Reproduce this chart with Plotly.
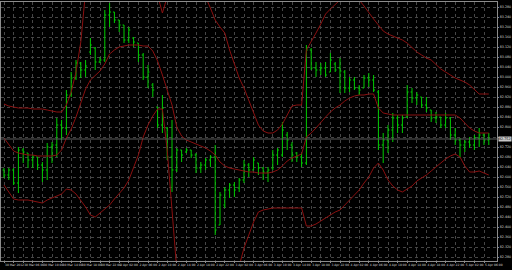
import plotly.graph_objects as go

# ---- data (USDJPY-like H1 bars) ----
time_labels = ["30 Mar 2012", "30 Mar 06:00", "30 Mar 10:00", "30 Mar 14:00", "30 Mar 18:00", "30 Mar 22:00",
               "2 Apr 02:00", "2 Apr 06:00", "2 Apr 10:00", "2 Apr 14:00", "2 Apr 18:00", "2 Apr 22:00",
               "3 Apr 02:00", "3 Apr 06:00", "3 Apr 10:00", "3 Apr 14:00", "3 Apr 18:00", "3 Apr 22:00",
               "4 Apr 02:00", "4 Apr 06:00", "4 Apr 10:00", "4 Apr 14:00", "4 Apr 18:00", "4 Apr 22:00",
               "5 Apr 02:00", "5 Apr 06:00"]

price_ticks = [83.28, 83.24, 83.20, 83.16, 83.12, 83.08, 83.04, 83.00, 82.96, 82.92, 82.88, 82.84, 82.80,
               82.76, 82.72, 82.68, 82.64, 82.60, 82.56, 82.52, 82.48, 82.44, 82.40, 82.36, 82.32, 82.28]

opens = [82.628, 82.608, 82.628, 82.576, 82.708, 82.696, 82.668, 82.680, 82.648, 82.628,
         82.720, 82.728, 82.808, 82.796, 82.928, 82.996, 83.056, 83.028, 83.100, 83.116,
         83.060, 83.068, 83.248, 83.260, 83.228, 83.208, 83.148, 83.156, 83.136, 83.088,
         83.000, 82.968, 82.880, 82.808, 82.796, 82.680, 82.628, 82.708, 82.700, 82.708,
         82.688, 82.636, 82.648, 82.668, 82.680, 82.408, 82.488, 82.548, 82.568, 82.556,
         82.588, 82.648, 82.628, 82.656, 82.636, 82.620, 82.636, 82.688, 82.688, 82.768,
         82.728, 82.696, 82.680, 82.656, 83.108, 83.036, 83.028, 83.036, 83.020, 83.052,
         83.036, 83.020, 82.956, 82.988, 82.956, 82.956, 82.996, 82.988, 82.940, 82.728,
         82.748, 82.788, 82.836, 82.808, 82.840, 82.940, 82.916, 82.920, 82.888, 82.868,
         82.836, 82.840, 82.808, 82.836, 82.768, 82.748, 82.728, 82.740, 82.728, 82.756,
         82.768, 82.748]

highs = [82.636, 82.636, 82.636, 82.720, 82.716, 82.696, 82.688, 82.680, 82.660, 82.736,
         82.740, 82.836, 82.828, 82.948, 83.020, 83.068, 83.060, 83.068, 83.156, 83.120,
         83.080, 83.268, 83.296, 83.260, 83.228, 83.208, 83.200, 83.160, 83.136, 83.096,
         83.048, 82.976, 82.880, 82.928, 82.800, 82.828, 82.716, 82.708, 82.716, 82.708,
         82.696, 82.660, 82.676, 82.688, 82.728, 82.540, 82.560, 82.576, 82.580, 82.596,
         82.668, 82.656, 82.680, 82.656, 82.640, 82.640, 82.708, 82.716, 82.820, 82.780,
         82.740, 82.700, 82.696, 83.128, 83.116, 83.060, 83.056, 83.060, 83.096, 83.060,
         83.076, 83.028, 83.000, 83.000, 82.968, 83.008, 83.016, 83.008, 82.948, 82.776,
         82.808, 82.856, 82.848, 82.848, 82.968, 82.956, 82.940, 82.920, 82.920, 82.868,
         82.860, 82.840, 82.856, 82.840, 82.796, 82.756, 82.748, 82.760, 82.768, 82.796,
         82.776, 82.776]

lows = [82.596, 82.588, 82.568, 82.536, 82.656, 82.636, 82.636, 82.628, 82.580, 82.588,
        82.656, 82.680, 82.748, 82.768, 82.920, 82.988, 82.996, 83.000, 83.088, 83.028,
        83.056, 83.060, 83.200, 83.216, 83.180, 83.136, 83.136, 83.120, 83.060, 82.988,
        82.956, 82.920, 82.796, 82.776, 82.668, 82.540, 82.620, 82.660, 82.696, 82.676,
        82.616, 82.616, 82.628, 82.640, 82.368, 82.408, 82.476, 82.516, 82.520, 82.540,
        82.576, 82.600, 82.628, 82.608, 82.588, 82.580, 82.628, 82.648, 82.680, 82.708,
        82.660, 82.660, 82.640, 82.648, 83.028, 83.000, 83.008, 83.000, 83.020, 83.020,
        82.936, 82.936, 82.940, 82.948, 82.928, 82.956, 82.960, 82.940, 82.708, 82.656,
        82.696, 82.740, 82.776, 82.776, 82.836, 82.896, 82.888, 82.876, 82.860, 82.820,
        82.816, 82.796, 82.796, 82.748, 82.728, 82.680, 82.700, 82.716, 82.708, 82.720,
        82.728, 82.728]

closes = [82.608, 82.628, 82.576, 82.708, 82.700, 82.668, 82.680, 82.648, 82.628, 82.720,
          82.728, 82.808, 82.796, 82.928, 82.996, 83.056, 83.028, 83.044, 83.128, 83.060,
          83.068, 83.248, 83.260, 83.228, 83.208, 83.148, 83.188, 83.140, 83.088, 83.000,
          83.020, 82.948, 82.808, 82.876, 82.680, 82.628, 82.708, 82.688, 82.708, 82.688,
          82.636, 82.648, 82.668, 82.680, 82.388, 82.528, 82.548, 82.568, 82.548, 82.588,
          82.648, 82.628, 82.668, 82.636, 82.620, 82.628, 82.688, 82.708, 82.788, 82.748,
          82.688, 82.680, 82.656, 83.108, 83.036, 83.028, 83.036, 83.008, 83.068, 83.028,
          83.024, 82.956, 82.988, 82.956, 82.948, 82.996, 82.988, 82.948, 82.728, 82.748,
          82.788, 82.836, 82.808, 82.836, 82.940, 82.916, 82.928, 82.888, 82.876, 82.836,
          82.840, 82.808, 82.836, 82.768, 82.748, 82.728, 82.740, 82.728, 82.756, 82.768,
          82.748, 82.752]

band_upper = [82.892, 82.884, 82.880, 82.876, 82.876, 82.876, 82.872, 82.872, 82.872, 82.868,
              82.864, 82.860, 82.860, 82.888, 82.940, 83.020, 83.140, 83.388, 83.548, 83.668,
              83.748, 83.908, 84.068, 84.148, 84.188, 84.208, 84.188, 84.108, 83.988, 83.828,
              83.668, 83.508, 83.328, 83.256, 83.320, 83.428, 83.468, 83.488, 83.488, 83.448,
              83.408, 83.368, 83.320, 83.276, 83.228, 83.200, 83.176, 83.108, 83.048, 82.996,
              82.956, 82.908, 82.860, 82.808, 82.784, 82.776, 82.776, 82.788, 82.812, 82.848,
              82.884, 82.888, 82.888, 83.108, 83.140, 83.176, 83.212, 83.252, 83.272, 83.292,
              83.308, 83.324, 83.328, 83.324, 83.308, 83.284, 83.256, 83.232, 83.208, 83.184,
              83.172, 83.164, 83.156, 83.148, 83.136, 83.116, 83.100, 83.088, 83.076, 83.068,
              83.048, 83.032, 83.020, 83.008, 82.996, 82.988, 82.980, 82.968, 82.948, 82.932,
              82.932, 82.932]

band_middle = [82.756, 82.728, 82.704, 82.696, 82.692, 82.688, 82.688, 82.684, 82.684, 82.684,
               82.684, 82.688, 82.708, 82.756, 82.792, 82.840, 82.896, 82.952, 82.988, 83.008,
               83.024, 83.052, 83.092, 83.108, 83.120, 83.124, 83.128, 83.128, 83.128, 83.124,
               83.124, 83.104, 83.064, 83.008, 82.948, 82.888, 82.800, 82.764, 82.748, 82.740,
               82.732, 82.724, 82.716, 82.704, 82.688, 82.660, 82.644, 82.636, 82.632, 82.628,
               82.624, 82.620, 82.620, 82.616, 82.616, 82.616, 82.620, 82.628, 82.644, 82.664,
               82.676, 82.684, 82.692, 82.760, 82.776, 82.796, 82.820, 82.840, 82.860, 82.876,
               82.888, 82.904, 82.916, 82.924, 82.928, 82.928, 82.932, 82.932, 82.876, 82.856,
               82.852, 82.848, 82.848, 82.848, 82.848, 82.848, 82.848, 82.848, 82.848, 82.848,
               82.848, 82.848, 82.848, 82.848, 82.848, 82.836, 82.816, 82.796, 82.784, 82.776,
               82.776, 82.776]

band_lower = [82.568, 82.540, 82.512, 82.508, 82.508, 82.508, 82.504, 82.500, 82.496, 82.508,
              82.516, 82.524, 82.532, 82.552, 82.548, 82.532, 82.508, 82.480, 82.448, 82.440,
              82.456, 82.472, 82.488, 82.512, 82.532, 82.556, 82.588, 82.636, 82.688, 82.760,
              82.808, 82.844, 82.872, 82.872, 82.708, 82.468, 82.228, 82.108, 82.028, 81.988,
              81.968, 81.968, 81.988, 82.008, 82.048, 82.088, 82.128, 82.168, 82.208, 82.244,
              82.316, 82.368, 82.420, 82.460, 82.468, 82.472, 82.476, 82.476, 82.476, 82.476,
              82.476, 82.476, 82.476, 82.404, 82.404, 82.412, 82.424, 82.436, 82.448, 82.460,
              82.468, 82.488, 82.508, 82.528, 82.548, 82.576, 82.600, 82.636, 82.656, 82.628,
              82.588, 82.564, 82.548, 82.540, 82.552, 82.564, 82.584, 82.596, 82.608, 82.624,
              82.640, 82.656, 82.672, 82.684, 82.692, 82.680, 82.644, 82.620, 82.620, 82.624,
              82.616, 82.608]

# ---- figure ----
n = len(opens)
idx = list(range(n))
band_color = "#8a1010"
bar_color = "#00cc00"
axis_grey = "#8c8c8c"
label_col = "#d8d8d8"
font_family = "DejaVu Sans"
bid = closes[-1]

fig = go.Figure()
for band in (band_upper, band_middle, band_lower):
    fig.add_trace(go.Scatter(x=idx, y=band, mode="lines", line=dict(color=band_color, width=1),
                             hoverinfo="skip"))

fig.add_trace(go.Ohlc(x=idx, open=opens, high=highs, low=lows, close=closes,
                      increasing=dict(line=dict(color=bar_color, width=1)),
                      decreasing=dict(line=dict(color=bar_color, width=1)),
                      tickwidth=0.3))

# bid line at last close
fig.add_hline(y=bid, line=dict(color="#5c5c5c", width=1))

tickvals = idx[::2]
ticktext = [time_labels[i // 4] if i % 4 == 0 and i // 4 < len(time_labels) else "" for i in tickvals]

# price labels; the one hidden behind the bid box is left blank
ytext = ["" if abs(v - bid) < 0.012 else f"{v:.3f}" for v in price_ticks]

fig.add_annotation(xref="paper", x=1.0, xanchor="left", yref="y", y=bid, yanchor="middle",
                   text=f"{bid:.3f}", showarrow=False, bgcolor="#c8c8c8",
                   font=dict(size=3.3, color="black", family=font_family), borderpad=0, xshift=1)

fig.update_layout(
    width=512, height=270,
    margin=dict(l=1, r=15, t=2, b=9, autoexpand=False),
    paper_bgcolor="black", plot_bgcolor="black",
    showlegend=False,
    xaxis=dict(range=[-0.625, 102.708], tickvals=tickvals, ticktext=ticktext, tickangle=0,
               ticklabelposition="outside right", ticks="outside", ticklen=1, tickcolor=axis_grey,
               showgrid=True, gridcolor="#464646", griddash="dot", gridwidth=1,
               showline=True, linecolor=axis_grey, linewidth=1, mirror=True, zeroline=False,
               tickfont=dict(size=3, color=label_col, family=font_family),
               rangeslider=dict(visible=False), fixedrange=True, automargin=False),
    yaxis=dict(side="right", range=[82.264, 83.300], tickvals=price_ticks,
               ticktext=ytext, ticks="outside", ticklen=1,
               tickcolor=axis_grey, showgrid=True, gridcolor="#464646", griddash="dot", gridwidth=1,
               showline=True, linecolor=axis_grey, linewidth=1, mirror=True, zeroline=False,
               tickfont=dict(size=3.3, color=label_col, family=font_family),
               fixedrange=True, automargin=False),
)

fig.write_html("out.html")
